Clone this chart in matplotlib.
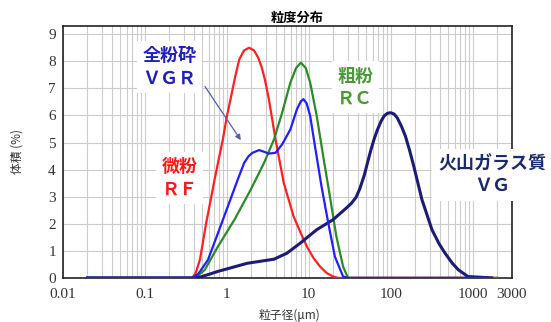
import matplotlib
matplotlib.use("Agg")
import matplotlib.pyplot as plt
from matplotlib.ticker import FixedLocator, NullFormatter

# 粒子径 (um) と 体積 (%)
rf_x = [0.02, 0.38, 0.42, 0.47, 0.56, 0.71, 0.8, 0.895, 1.0, 1.13, 1.27, 1.42,
        1.62, 1.87, 2.15, 2.4, 2.65, 2.9, 3.26, 3.93, 4.95, 6.53, 8.0, 9.46, 11.5,
        13.7, 16.5, 19.8, 23, 2000]
rf_y = [0, 0, 0.2, 0.67, 2.02, 3.63, 4.4, 5.11, 5.95, 6.71, 7.45, 8.07,
        8.4, 8.5, 8.4, 8.15, 7.8, 7.35, 6.6, 5.11, 3.51, 2.27, 1.65, 1.16, 0.72,
        0.42, 0.18, 0.05, 0, 0]

rc_x = [0.02, 0.38, 0.45, 0.54, 0.78, 1.24, 1.96, 2.85, 3.76, 4.73, 5.96, 7.0,
        8.0, 9.2, 10.4, 12.5, 15.0, 18.1, 21.7, 26.2, 30, 2000]
rc_y = [0, 0, 0.1, 0.3, 1.16, 2.15, 3.26, 4.25, 5.11, 6.1, 7.21, 7.75,
        7.95, 7.75, 7.21, 5.98, 4.49, 3.01, 1.53, 0.42, 0, 0]

vgr_x = [0.02, 0.38, 0.45, 0.59, 0.78, 1.03, 1.36, 1.63, 1.85, 2.06, 2.48, 2.9,
         3.26, 3.93, 4.73, 5.96, 7.16, 8.0, 8.6, 9.4, 10.4, 11.9, 14.3, 17.3, 20.8,
         26.2, 30, 1700]
vgr_y = [0, 0, 0.15, 0.67, 1.65, 2.64, 3.63, 4.25, 4.5, 4.62, 4.72, 4.65,
         4.59, 4.62, 4.93, 5.48, 6.22, 6.52, 6.6, 6.45, 5.98, 4.86, 3.38, 2.02, 0.79,
         0.05, 0, 0]

vg_x = [0.02, 0.42, 0.5, 0.78, 1.78, 3.76, 5.4, 7.85, 12.5, 19.8, 28.7, 33,
        37.8, 42, 47.6, 52, 57.4, 63, 69, 76, 83, 91, 100, 110, 120, 135, 151,
        170, 191, 240, 318, 390, 460, 560, 666, 872, 1700]
vg_y = [0, 0, 0.05, 0.24, 0.54, 0.69, 0.91, 1.28, 1.78, 2.15, 2.58, 2.75,
        2.98, 3.3, 3.8, 4.25, 4.74, 5.15, 5.48, 5.78, 5.98, 6.08, 6.1, 6.05,
        5.91, 5.6, 5.23, 4.7, 4.12, 2.89, 1.78, 1.25, 0.91, 0.55, 0.3, 0.05, 0]

x_ticks = [0.01, 0.1, 1, 10, 100, 1000, 3000]
x_labels = ["0.01", "0.1", "1", "10", "100", "1000", "3000"]
y_ticks = [0, 1, 2, 3, 4, 5, 6, 7, 8, 9]

jp = ["Noto Sans CJK JP", "DejaVu Sans"]
serif = "Liberation Serif"

fig = plt.figure(figsize=(5.51, 3.22), dpi=100)
ax = fig.add_axes([0.114, 0.137, 0.815, 0.782])

ax.plot(rf_x, rf_y, color="#ff2020", lw=1.6, zorder=3, solid_joinstyle="round")
ax.plot(rc_x, rc_y, color="#2a8a2a", lw=1.6, zorder=3, solid_joinstyle="round")
ax.plot(vg_x, vg_y, color="#1c1c78", lw=2.2, zorder=3, solid_joinstyle="round")
ax.plot(vgr_x, vgr_y, color="#1f1fff", lw=1.6, zorder=4, solid_joinstyle="round")

ax.set_xscale("log")
ax.set_xlim(0.01, 3000)
ax.set_ylim(0, 9.3)

# grid on every minor log tick
minor = [m * 10.0 ** e for e in range(-2, 4) for m in range(2, 10) if m * 10.0 ** e < 3000]
ax.xaxis.set_major_locator(FixedLocator(x_ticks))
ax.xaxis.set_minor_locator(FixedLocator(minor))
ax.xaxis.set_minor_formatter(NullFormatter())
ax.set_xticklabels(x_labels)
ax.set_yticks(y_ticks)
ax.grid(which="both", axis="x", color="#cccccc", lw=0.8)
ax.grid(which="major", axis="y", color="#cccccc", lw=0.8)
ax.set_axisbelow(True)
ax.tick_params(which="both", length=0)
ax.tick_params(axis="x", pad=7)
ax.tick_params(axis="y", pad=5)
for lab in ax.get_xticklabels() + ax.get_yticklabels():
    lab.set_family(serif)
    lab.set_fontsize(11)
    lab.set_color("#333333")
for s in ax.spines.values():
    s.set_color("#222222")
    s.set_linewidth(1.2)

fig.text(0.539, 0.943, "粒度分布", family=jp, fontsize=9.5, fontweight="bold",
         ha="center", va="center")
fig.text(0.525, 0.022, "粒子径(μm)", family=jp, fontsize=8.5, ha="center",
         va="center", color="#333333")
fig.text(0.031, 0.53, "体積 (%)", family=jp, fontsize=8.5, rotation=90,
         ha="center", va="center", color="#333333")

box = dict(facecolor="white", edgecolor="none", pad=4)
ax.text(0.2, 7.8, "全粉砕\nＶＧＲ", family=jp, fontsize=13, fontweight="bold",
        color="#2020c0", ha="center", va="center", linespacing=1.2, bbox=box, zorder=5)
ax.text(37, 7.05, "粗粉\nＲＣ", family=jp, fontsize=13, fontweight="bold",
        color="#4a9a3a", ha="center", va="center", linespacing=1.2, bbox=box, zorder=5)
ax.text(0.265, 3.7, "微粉\nＲＦ", family=jp, fontsize=13, fontweight="bold",
        color="#ff1a1a", ha="center", va="center", linespacing=1.2, bbox=box, zorder=5)
fig.text(0.893, 0.457, "火山ガラス質\nＶＧ", family=jp, fontsize=13, fontweight="bold",
         color="#1a2a6a", ha="center", va="center", linespacing=1.2, bbox=box, zorder=5)

ax.annotate("", xy=(1.55, 5.0), xytext=(0.52, 7.15),
            arrowprops=dict(arrowstyle="-|>", color="#5060b0", lw=0.9,
                            mutation_scale=8), zorder=6)

fig.savefig("out.png", dpi=100)
